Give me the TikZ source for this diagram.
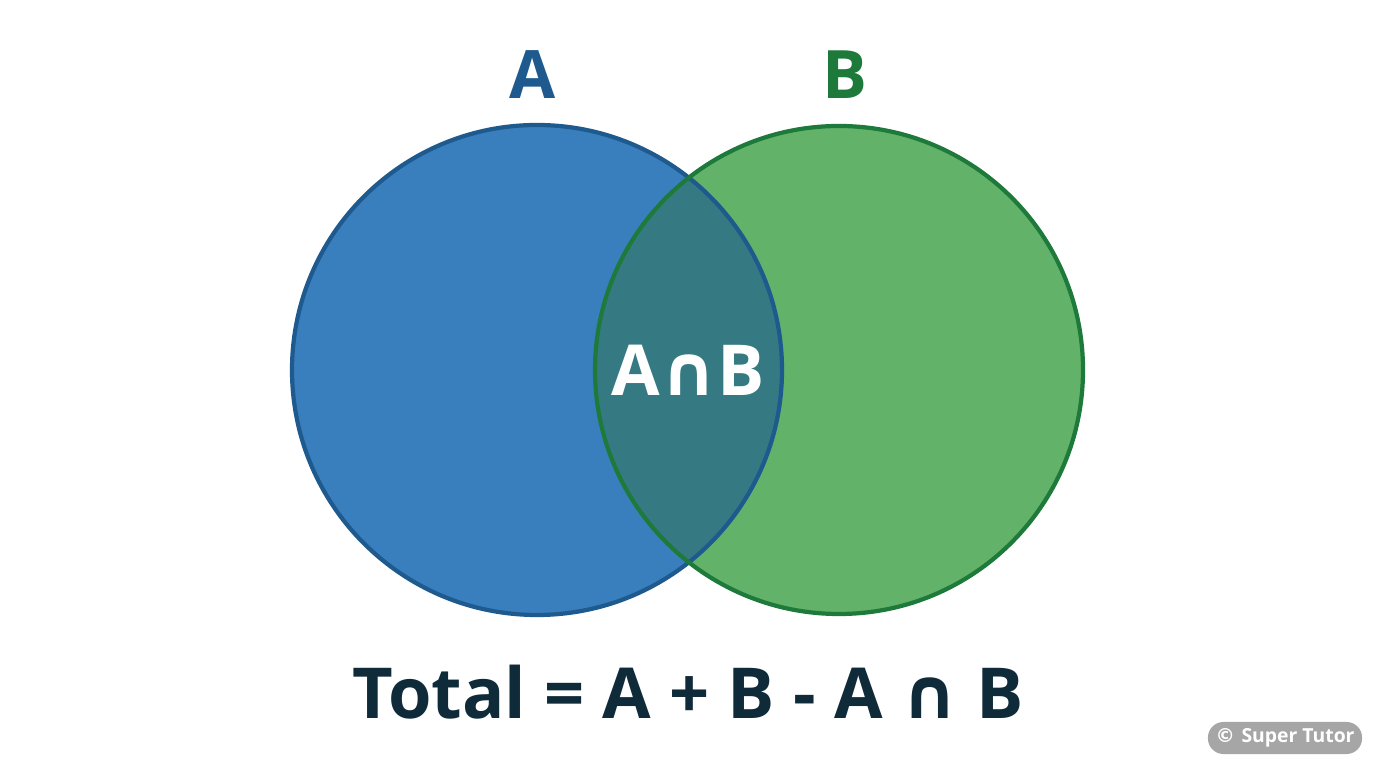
\documentclass[tikz,border=0pt]{standalone}
\usepackage{fontspec}
\setmainfont{Open Sans}
\newfontfamily\symfont{DejaVu Sans}
\definecolor{setA}{HTML}{3A7FBD}
\definecolor{setAline}{HTML}{1F5A8F}
\definecolor{setB}{HTML}{63B26A}
\definecolor{setBline}{HTML}{1E7A3A}
\definecolor{setAB}{HTML}{357A82}
\definecolor{formula}{HTML}{0F2B3A}
\newcommand{\capsym}{{\symfont\char"2229}}
\tikzset{
  setlabel/.style={font=\fontsize{19}{22}\selectfont\bfseries},
  ring/.style={line width=1.2pt}
}
\begin{document}
\begin{tikzpicture}[x=0.01cm,y=-0.01cm]
\useasboundingbox (0,0) rectangle (1376,768);
\fill[white] (0,0) rectangle (1376,768);

% the two sets
\fill[setA] (537,370) circle (245);
\fill[setB] (839,370) circle (244);
\begin{scope}
  \clip (537,370) circle (245);
  \fill[setAB] (839,370) circle (244);
\end{scope}
\draw[ring,setAline] (537,370) circle (245);
\draw[ring,setBline] (839,370) circle (244);

% labels
\node[setlabel,text=setAline] (labA) at (533,75) {A};
\node[setlabel,text=setBline] (labB) at (845,75) {B};
\node[font=\fontsize{20}{24}\selectfont\bfseries,text=white] (inter) at (688,370) {A\capsym B};
\node[font=\fontsize{20}{24}\selectfont\bfseries,text=formula] (total) at (688,692)
  {Total = A + B - A \capsym{} B};

% watermark
\node[fill=black!35,text=white,rounded corners=4.4pt,minimum width=1.54cm,minimum height=0.32cm,
  font=\fontsize{5.5}{6}\selectfont\bfseries,inner sep=0pt] (mark) at (1285,738)
  {\symfont ©\ \rmfamily Super Tutor};
\end{tikzpicture}
\end{document}
